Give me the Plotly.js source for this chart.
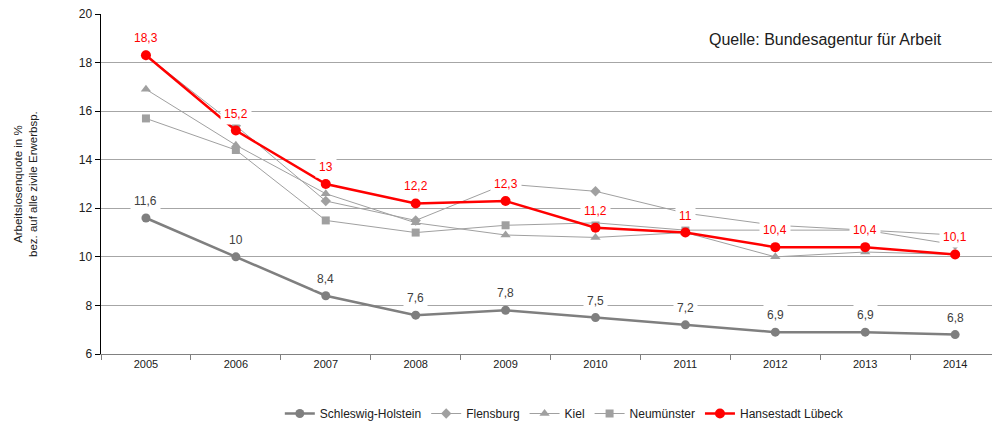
<!DOCTYPE html>
<html><head><meta charset="utf-8">
<script src="https://cdn.plot.ly/plotly-3.0.1.min.js"></script>
<style>html,body{margin:0;padding:0;background:#fff}#chart{width:992px;height:428px}</style>
</head><body><div id="chart"></div>
<script>
const years = ['2005','2006','2007','2008','2009','2010','2011','2012','2013','2014'];
const schleswigHolstein = [11.6,10,8.4,7.6,7.8,7.5,7.2,6.9,6.9,6.8];
const flensburg = [18.3,15.4,12.3,11.5,13.0,12.7,11.8,11.3,11.1,10.5];
const kiel = [16.9,14.6,12.6,11.4,10.9,10.8,11.0,10.0,10.2,10.1];
const neumuenster = [15.7,14.4,11.5,11.0,11.3,11.4,11.1,11.1,11.1,10.9];
const luebeck = [18.3,15.2,13,12.2,12.3,11.2,11,10.4,10.4,10.1];

const fmt = v => String(v).replace('.', ',');
const gray = '#a0a0a0';
const traces = [
  {name:'Schleswig-Holstein', x:years, y:schleswigHolstein, mode:'lines+markers',
   line:{color:'#7f7f7f', width:2.5}, marker:{symbol:'circle', size:9, color:'#7f7f7f'}},
  {name:'Flensburg', x:years, y:flensburg, mode:'lines+markers',
   line:{color:gray, width:1}, marker:{symbol:'diamond', size:8, color:gray}},
  {name:'Kiel', x:years, y:kiel, mode:'lines+markers',
   line:{color:gray, width:1}, marker:{symbol:'triangle-up', size:9, color:gray}},
  {name:'Neumünster', x:years, y:neumuenster, mode:'lines+markers',
   line:{color:gray, width:1}, marker:{symbol:'square', size:8, color:gray}},
  {name:'Hansestadt Lübeck', x:years, y:luebeck, mode:'lines+markers',
   line:{color:'#ff0000', width:2.5}, marker:{symbol:'circle', size:10, color:'#ff0000'}}
];

const annotations = [];
years.forEach((yr,i)=>{
  annotations.push({x:i, y:schleswigHolstein[i], xref:'x', yref:'y', text:fmt(schleswigHolstein[i]),
    showarrow:false, yshift:17, bgcolor:'#ffffff', borderpad:3,
    font:{family:'Liberation Sans, Arial', size:12, color:'#404040'}});
  annotations.push({x:i, y:luebeck[i], xref:'x', yref:'y', text:fmt(luebeck[i]),
    showarrow:false, yshift:17, bgcolor:'#ffffff', borderpad:3,
    font:{family:'Liberation Sans, Arial', size:12, color:'#ff0000'}});
});
annotations.push({xref:'paper', yref:'paper', x:(825-101)/891, y:1-(40-14)/341, xanchor:'center', yanchor:'middle',
  text:'Quelle: Bundesagentur für Arbeit', showarrow:false,
  font:{family:'Liberation Sans, Arial', size:16, color:'#202020'}});
annotations.push({xref:'paper', yref:'paper', x:(25-101)/891, y:0.5, xanchor:'center', yanchor:'middle',
  textangle:-90, text:'Arbeitslosenquote in %<br>bez. auf alle zivile Erwerbsp.', showarrow:false,
  font:{family:'Liberation Sans, Arial', size:11.5, color:'#202020'}});

const layout = {
  width:992, height:428,
  margin:{l:101, r:0, t:14, b:73},
  paper_bgcolor:'#ffffff', plot_bgcolor:'#ffffff',
  showlegend:true,
  legend:{orientation:'h', x:0.52, xanchor:'center', y:-0.175, yanchor:'middle',
    font:{family:'Liberation Sans, Arial', size:12, color:'#202020'}, itemwidth:30, tracegroupgap:0},
  xaxis:{type:'category', range:[-0.5, 9.41], tickson:'boundaries', ticks:'outside', ticklen:5,
    tickcolor:'#808080', showline:true, linecolor:'#808080', linewidth:1, showgrid:false,
    tickfont:{family:'Liberation Sans, Arial', size:11, color:'#202020'}, fixedrange:true},
  yaxis:{range:[6,20], dtick:2, ticks:'outside', ticklen:5, tickcolor:'#000000',
    showline:true, linecolor:'#000000', linewidth:1.5, showgrid:true, gridcolor:'#a6a6a6', gridwidth:1,
    zeroline:false, tickfont:{family:'Liberation Sans, Arial', size:12, color:'#202020'}, fixedrange:true},
  annotations:annotations
};
Plotly.newPlot('chart', traces, layout, {displayModeBar:false, staticPlot:true});
</script>
</body></html>
